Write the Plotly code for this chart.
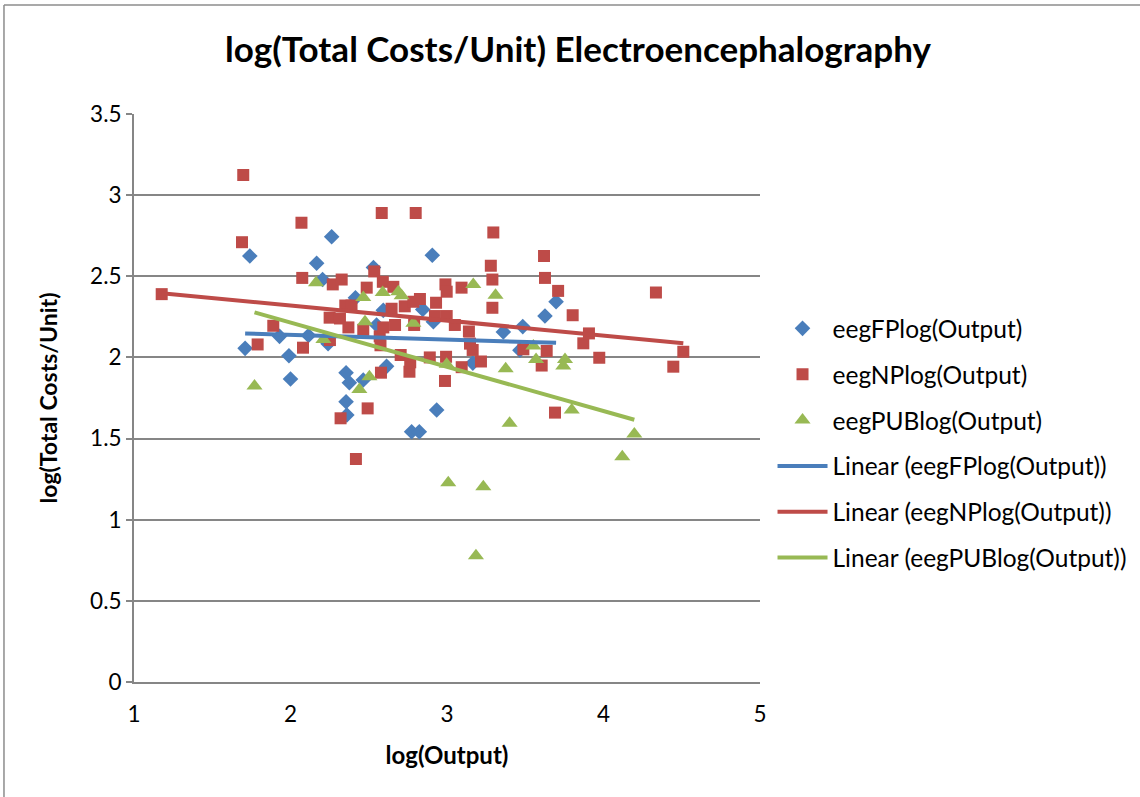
import numpy as np
import plotly.graph_objects as go

# ---- data ----
fp_x = [1.71, 1.74, 1.93, 1.99, 2.00, 2.115, 2.167, 2.205, 2.24, 2.263, 2.355, 2.376, 2.355, 2.36,
        2.415, 2.465, 2.53, 2.55, 2.593, 2.614, 2.774, 2.823, 2.845, 2.906, 2.913, 2.934, 3.165,
        3.36, 3.466, 3.484, 3.626, 3.697]
fp_y = [2.056, 2.625, 2.13, 2.01, 1.867, 2.135, 2.58, 2.48, 2.085, 2.744, 1.906, 1.844, 1.727, 1.645,
        2.367, 1.861, 2.554, 2.20, 2.29, 1.945, 1.542, 1.542, 2.295, 2.63, 2.22, 1.676, 1.965,
        2.157, 2.045, 2.19, 2.255, 2.343]

np_x = [1.177, 1.69, 1.698, 1.79, 1.89, 2.07, 2.075, 2.08, 2.25, 2.252, 2.27, 2.316, 2.32, 2.327,
        2.35, 2.39, 2.37, 2.418, 2.465, 2.487, 2.493, 2.535, 2.57, 2.575, 2.578, 2.583, 2.59, 2.593,
        2.646, 2.657, 2.668, 2.704, 2.73, 2.76, 2.765, 2.79, 2.785, 2.80, 2.827, 2.89, 2.923, 2.93,
        2.987, 2.99, 2.994, 2.998, 2.998, 3.05, 3.093, 3.094, 3.14, 3.147, 3.164, 3.217, 3.28, 3.29,
        3.29, 3.296, 3.488, 3.605, 3.62, 3.626, 3.637, 3.69, 3.71, 3.803, 3.871, 3.907, 3.973,
        4.335, 4.446, 4.51]
np_y = [2.39, 2.71, 3.124, 2.08, 2.195, 2.83, 2.49, 2.06, 2.245, 2.107, 2.45, 2.24, 1.625, 2.48,
        2.32, 2.32, 2.185, 1.374, 2.17, 2.43, 1.686, 2.53, 2.13, 2.075, 1.906, 2.89, 2.466, 2.185,
        2.30, 2.435, 2.20, 2.015, 2.315, 1.912, 1.97, 2.20, 2.343, 2.89, 2.36, 2.0, 2.255, 2.337,
        1.855, 2.45, 2.004, 2.405, 2.255, 2.20, 2.43, 1.94, 2.16, 2.085, 2.046, 1.975, 2.565, 2.48,
        2.306, 2.77, 2.05, 1.95, 2.625, 2.49, 2.04, 1.66, 2.41, 2.26, 2.087, 2.148, 1.998,
        2.40, 1.943, 2.035]

pub_x = [1.77, 2.163, 2.21, 2.44, 2.465, 2.476, 2.504, 2.589, 2.689, 2.71, 2.785, 2.998, 3.008,
         3.168, 3.185, 3.232, 3.31, 3.375, 3.40, 3.552, 3.569, 3.743, 3.754, 3.797, 4.12, 4.197]
pub_y = [1.824, 2.46, 2.11, 1.803, 2.37, 2.22, 1.881, 2.40, 2.405, 2.38, 2.21, 1.958, 1.228,
         2.45, 0.778, 1.203, 2.383, 1.93, 1.594, 2.07, 1.988, 1.947, 1.988, 1.676, 1.388, 1.528]

x_ticks = [1, 2, 3, 4, 5]
y_ticks = [0, 0.5, 1, 1.5, 2, 2.5, 3, 3.5]
y_tick_labels = ["0", "0.5", "1", "1.5", "2", "2.5", "3", "3.5"]

BLUE = "#4A7EBB"
RED = "#BE4B48"
GREEN = "#98B954"
FONT = "Lato"

series = [
    ("eegFPlog(Output)", fp_x, fp_y, BLUE, "diamond", 12),
    ("eegNPlog(Output)", np_x, np_y, RED, "square", 12),
    ("eegPUBlog(Output)", pub_x, pub_y, GREEN, "triangle-up", 14),
]

fig = go.Figure()
for i, (name, xs, ys, col, sym, sz) in enumerate(series):
    fig.add_trace(go.Scatter(
        x=xs, y=ys, mode="markers", name=name, legendgroup=f"g{i}",
        marker=dict(color=col, symbol=sym, size=sz, line=dict(width=0)),
    ))

for i, (name, xs, ys, col, sym, sz) in enumerate(series):
    xa = np.array(xs)
    ya = np.array(ys)
    slope, icpt = np.polyfit(xa, ya, 1)
    xl = [xa.min(), xa.max()]
    yl = [slope * v + icpt for v in xl]
    fig.add_trace(go.Scatter(
        x=xl, y=yl, mode="lines", name=f"Linear ({name})", legendgroup=f"t{i}",
        line=dict(color=col, width=4),
    ))

# chart border (left and top edges are visible in the reference)
fig.add_shape(type="line", xref="paper", yref="paper",
              x0=-0.2077, x1=-0.2077, y0=-0.25, y1=1.192,
              line=dict(color="#8C8C8C", width=1.5), layer="below")
fig.add_shape(type="line", xref="paper", yref="paper",
              x0=-0.2077, x1=1.62, y0=1.192, y1=1.192,
              line=dict(color="#8C8C8C", width=1.5), layer="below")

fig.update_layout(
    width=1140, height=797,
    margin=dict(l=134, r=380, t=114, b=115, autoexpand=False),
    paper_bgcolor="white", plot_bgcolor="white",
    font=dict(family=FONT, color="#000000"),
    title=dict(text="<b>log(Total Costs/Unit) Electroencephalography</b>",
               font=dict(family=FONT, size=35, color="#000000"),
               x=0.507, xanchor="center", y=0.937, yanchor="middle"),
    showlegend=True,
    legend=dict(x=1.02, xanchor="left", y=0.42, yanchor="middle",
                font=dict(family=FONT, size=24.5, color="#000000"),
                tracegroupgap=11, bgcolor="rgba(0,0,0,0)", itemwidth=50),
    xaxis=dict(range=[1, 5], tickvals=x_ticks, showgrid=False, zeroline=False,
               showline=True, linecolor="#868686", linewidth=2, ticks="",
               tickfont=dict(family=FONT, size=22.5), automargin=False, ticklabelstandoff=11,
               title=dict(text="<b>log(Output)</b>", font=dict(family=FONT, size=24), standoff=21)),
    yaxis=dict(range=[0, 3.5], tickvals=y_ticks, ticktext=y_tick_labels, showgrid=True,
               gridcolor="#868686", gridwidth=2, zeroline=False,
               showline=True, linecolor="#868686", linewidth=2,
               ticks="outside", ticklen=6, tickcolor="#868686", tickwidth=2,
               tickfont=dict(family=FONT, size=22.5), automargin=False,
               title=dict(text="<b>log(Total Costs/Unit)</b>", font=dict(family=FONT, size=23), standoff=26)),
)

fig.write_html("out.html", config={"displayModeBar": False},
               post_script="document.body.style.margin='0px';")
